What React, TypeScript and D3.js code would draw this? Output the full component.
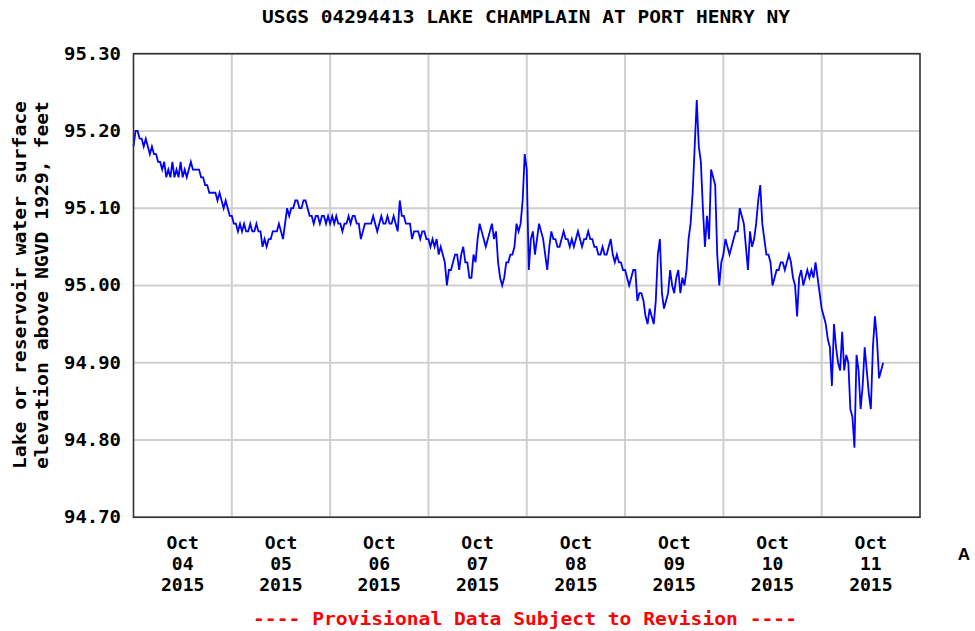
import React from "react";
import * as d3 from "d3";

const TITLE = "USGS 04294413 LAKE CHAMPLAIN AT PORT HENRY NY";
const Y_TITLE_1 = "Lake or reservoir water surface";
const Y_TITLE_2 = "elevation above NGVD 1929, feet";
const FOOTER = "---- Provisional Data Subject to Revision ----";

// Half-hourly gage height readings starting Oct 04 2015 00:00
const startDate = new Date(2015, 9, 4, 0, 0);
const endDate = new Date(2015, 9, 12, 0, 0);
const stepMinutes = 30;

const oct04: number[] = [
  95.18, 95.20, 95.20, 95.19, 95.19, 95.18, 95.19, 95.18, 95.17, 95.18, 95.17, 95.17,
  95.16, 95.16, 95.15, 95.16, 95.14, 95.15, 95.14, 95.16, 95.14, 95.15, 95.14, 95.16,
  95.14, 95.15, 95.14, 95.15, 95.16, 95.15, 95.15, 95.15, 95.15, 95.14, 95.14, 95.13,
  95.13, 95.12, 95.12, 95.12, 95.12, 95.11, 95.12, 95.11, 95.10, 95.11, 95.10, 95.09,
];
const oct05: number[] = [
  95.09, 95.08, 95.08, 95.07, 95.08, 95.07, 95.08, 95.07, 95.07, 95.08, 95.07, 95.07,
  95.08, 95.07, 95.07, 95.05, 95.06, 95.05, 95.06, 95.06, 95.07, 95.07, 95.07, 95.08,
  95.07, 95.06, 95.08, 95.10, 95.09, 95.10, 95.10, 95.11, 95.11, 95.10, 95.10, 95.11,
  95.11, 95.10, 95.09, 95.09, 95.08, 95.09, 95.09, 95.08, 95.09, 95.09, 95.08, 95.09,
];
const oct06: number[] = [
  95.08, 95.09, 95.08, 95.09, 95.08, 95.08, 95.07, 95.08, 95.08, 95.09, 95.08, 95.09,
  95.09, 95.08, 95.08, 95.06, 95.07, 95.08, 95.08, 95.08, 95.08, 95.09, 95.08, 95.07,
  95.08, 95.09, 95.08, 95.08, 95.09, 95.08, 95.08, 95.09, 95.08, 95.07, 95.11, 95.09,
  95.09, 95.08, 95.08, 95.08, 95.06, 95.07, 95.07, 95.07, 95.06, 95.07, 95.07, 95.06,
];
const oct07: number[] = [
  95.06, 95.05, 95.06, 95.05, 95.06, 95.04, 95.05, 95.04, 95.03, 95.00, 95.02, 95.02,
  95.03, 95.04, 95.04, 95.02, 95.04, 95.05, 95.03, 95.03, 95.01, 95.01, 95.04, 95.03,
  95.06, 95.08, 95.07, 95.06, 95.05, 95.06, 95.07, 95.08, 95.06, 95.07, 95.03, 95.01,
  95.00, 95.01, 95.03, 95.03, 95.04, 95.04, 95.05, 95.08, 95.07, 95.08, 95.11, 95.17,
];
const oct08: number[] = [
  95.15, 95.02, 95.06, 95.07, 95.04, 95.06, 95.08, 95.07, 95.06, 95.04, 95.02, 95.05,
  95.07, 95.06, 95.06, 95.05, 95.05, 95.06, 95.07, 95.06, 95.06, 95.05, 95.06, 95.05,
  95.06, 95.07, 95.06, 95.05, 95.06, 95.06, 95.07, 95.06, 95.06, 95.05, 95.05, 95.04,
  95.04, 95.05, 95.04, 95.04, 95.05, 95.06, 95.04, 95.03, 95.04, 95.03, 95.03, 95.02,
];
const oct09: number[] = [
  95.02, 95.01, 95.00, 95.01, 95.02, 95.02, 94.98, 94.99, 94.99, 94.98, 94.96, 94.95,
  94.97, 94.96, 94.95, 94.98, 95.04, 95.06, 94.99, 94.97, 94.98, 94.99, 95.02, 95.00,
  94.99, 95.01, 95.02, 94.99, 95.01, 95.00, 95.02, 95.06, 95.08, 95.12, 95.18, 95.24,
  95.18, 95.16, 95.10, 95.05, 95.09, 95.06, 95.15, 95.14, 95.13, 95.04, 95.00, 95.03,
];
const oct10: number[] = [
  95.04, 95.06, 95.05, 95.04, 95.05, 95.06, 95.07, 95.07, 95.10, 95.09, 95.08, 95.05,
  95.02, 95.07, 95.05, 95.06, 95.08, 95.11, 95.13, 95.08, 95.06, 95.04, 95.04, 95.03,
  95.00, 95.01, 95.02, 95.02, 95.03, 95.03, 95.02, 95.03, 95.04, 95.03, 95.01, 95.00,
  94.96, 95.01, 95.02, 95.00, 95.01, 95.02, 95.01, 95.02, 95.01, 95.03, 95.01, 94.99,
];
const oct11: number[] = [
  94.97, 94.96, 94.95, 94.93, 94.92, 94.87, 94.95, 94.92, 94.90, 94.89, 94.94, 94.89,
  94.91, 94.90, 94.84, 94.83, 94.79, 94.91, 94.89, 94.84, 94.87, 94.92, 94.89, 94.86,
  94.84, 94.92, 94.96, 94.93, 94.88, 94.89, 94.90,
];
const levels: number[] = [...oct04, ...oct05, ...oct06, ...oct07, ...oct08, ...oct09, ...oct10, ...oct11];

const yTicks: number[] = [94.7, 94.8, 94.9, 95.0, 95.1, 95.2, 95.3];
const dayLabels: string[] = ["04", "05", "06", "07", "08", "09", "10", "11"];
const monthLabel = "Oct";
const yearLabel = "2015";

const W = 975;
const H = 631;
const M = { left: 133.5, right: 920, top: 53.7, bottom: 517.2 };
const FONT = "'DejaVu Sans Mono', 'Liberation Mono', monospace";

export default function App() {
  const x = d3.scaleTime().domain([startDate, endDate]).range([M.left, M.right]);
  const y = d3.scaleLinear().domain([94.7, 95.3]).range([M.bottom, M.top]);

  const points = levels.map((v, i) => ({
    t: d3.timeMinute.offset(startDate, i * stepMinutes),
    v,
  }));
  const line = d3
    .line<{ t: Date; v: number }>()
    .x((d) => x(d.t))
    .y((d) => y(d.v))
    .curve(d3.curveLinear);

  const days = d3.timeDay.range(startDate, endDate);
  const dayBounds = d3.timeDay.range(d3.timeDay.offset(startDate, 1), endDate);

  return (
    <svg
      width={W}
      height={H}
      style={{ position: "absolute", left: 0, top: 0, background: "#fff" }}
      fontFamily={FONT}
      fontWeight="bold"
    >
      <rect x={0} y={0} width={W} height={H} fill="#fff" />
      <text x={526} y={23} textAnchor="middle" fontSize={17} fill="#000" textLength={528} lengthAdjust="spacingAndGlyphs">
        {TITLE}
      </text>

      {/* grid */}
      {yTicks.map((t) => (
        <line key={"gy" + t} x1={M.left} x2={M.right} y1={y(t)} y2={y(t)} stroke="#cfcfcf" strokeWidth={2} />
      ))}
      {dayBounds.map((d) => (
        <line key={"gx" + d.getTime()} x1={x(d)} x2={x(d)} y1={M.top} y2={M.bottom} stroke="#cfcfcf" strokeWidth={2} />
      ))}

      {/* data */}
      <path d={line(points) ?? ""} fill="none" stroke="#0000ff" strokeWidth={1.8} strokeLinejoin="miter" />

      {/* frame */}
      <rect
        x={M.left}
        y={M.top}
        width={M.right - M.left}
        height={M.bottom - M.top}
        fill="none"
        stroke="#333"
        strokeWidth={1.6}
      />

      {/* y tick labels */}
      {yTicks.map((t) => (
        <text key={"yl" + t} x={121} y={y(t) + 6} textAnchor="end" fontSize={18} fill="#000" textLength={57} lengthAdjust="spacingAndGlyphs">
          {t.toFixed(2)}
        </text>
      ))}

      {/* x tick labels */}
      {days.map((d, i) => {
        const cx = x(d3.timeHour.offset(d, 12));
        return (
          <g key={"xl" + i} fontSize={18} fill="#000" textAnchor="middle">
            <text x={cx} y={549}>{monthLabel}</text>
            <text x={cx} y={570}>{dayLabels[i]}</text>
            <text x={cx} y={591}>{yearLabel}</text>
          </g>
        );
      })}

      {/* y axis title */}
      <g transform="translate(26,285) rotate(-90)">
        <text x={0} y={0} textAnchor="middle" fontSize={18} fill="#000" textLength={368} lengthAdjust="spacingAndGlyphs">
          {Y_TITLE_1}
        </text>
        <text x={0} y={22} textAnchor="middle" fontSize={18} fill="#000" textLength={368} lengthAdjust="spacingAndGlyphs">
          {Y_TITLE_2}
        </text>
      </g>

      {/* footer */}
      <text x={525} y={625} textAnchor="middle" fontSize={18} fill="#ff0000" textLength={544} lengthAdjust="spacingAndGlyphs">
        {FOOTER}
      </text>

      <text x={964} y={560} textAnchor="middle" fontSize={17} fontWeight="bold" fill="#000" fontFamily="'Liberation Sans', Arial, sans-serif">
        A
      </text>
    </svg>
  );
}
